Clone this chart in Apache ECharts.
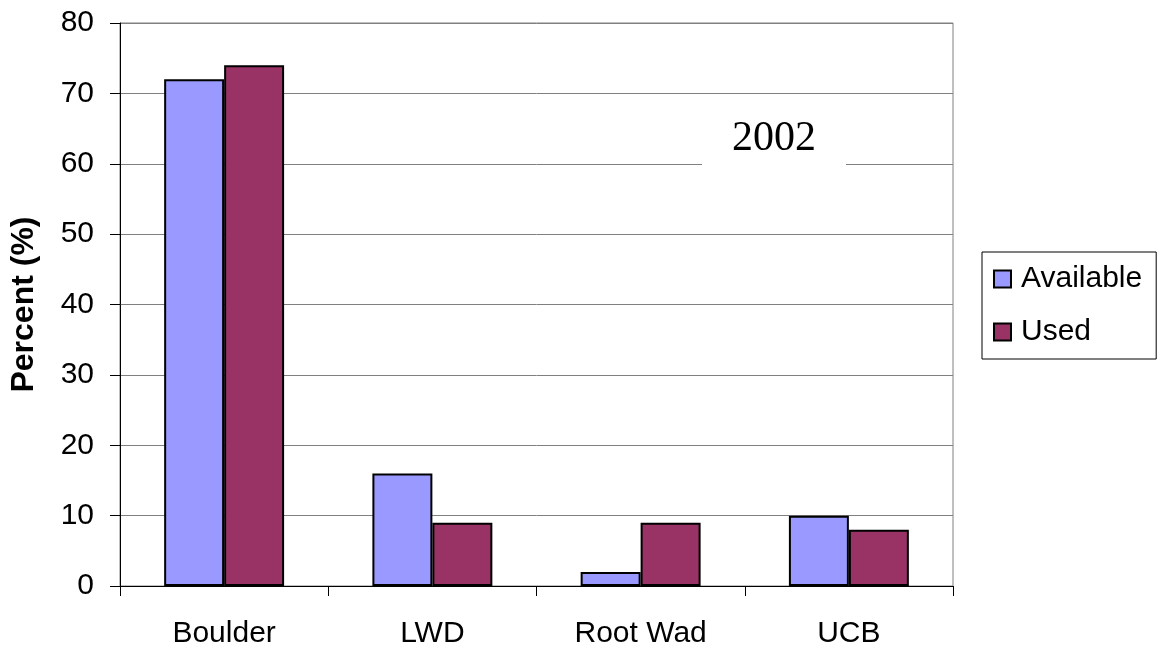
<!DOCTYPE html>
<html>
<head>
<meta charset="utf-8">
<script src="https://cdn.jsdelivr.net/npm/echarts@6/dist/echarts.min.js"></script>
<style>
  html, body { margin: 0; padding: 0; background: #fff; }
  #chartDiv { width: 1158px; height: 651px; }
</style>
</head>
<body>
<div id="chartDiv"></div>
<script>
// data
var categories = ['Boulder', 'LWD', 'Root Wad', 'UCB'];
var availableValues = [72, 16, 2, 10];
var usedValues = [74, 9, 9, 8];
var yTicks = { min: 0, max: 80, interval: 10 };

var myChart = echarts.init(document.getElementById('chartDiv'));

var font = '"Liberation Sans", Arial, sans-serif';

var option = {
    animation: false,
    textStyle: { fontFamily: font },
    grid: {
        left: 120,
        right: 205,
        top: 23,
        bottom: 65,
        outerBoundsMode: 'none',
        containLabel: false,
        show: true,
        borderColor: '#808080',
        borderWidth: 1
    },
    legend: {
        orient: 'vertical',
        left: 982,
        top: 252,
        data: ['Available', 'Used'],
        icon: 'rect',
        itemWidth: 17,
        itemHeight: 17,
        itemGap: 23,
        padding: [12, 14, 12, 11],
        borderColor: '#000',
        borderWidth: 1,
        textStyle: { fontSize: 30, color: '#000', fontFamily: font, padding: [0, 0, 0, 5] }
    },
    xAxis: [{
        type: 'category',
        data: categories,
        axisLine: { lineStyle: { color: '#000', width: 1 } },
        axisTick: { show: true, length: 10, lineStyle: { color: '#000' } },
        axisLabel: { fontSize: 30, color: '#000', margin: 33 }
    }],
    yAxis: [{
        type: 'value',
        min: yTicks.min,
        max: yTicks.max,
        interval: yTicks.interval,
        name: 'Percent (%)',
        nameLocation: 'middle',
        nameGap: 80,
        nameTextStyle: { fontSize: 32, fontWeight: 'bold', color: '#000' },
        axisLine: { show: true, lineStyle: { color: '#000', width: 1 } },
        axisTick: { show: true, length: 10, lineStyle: { color: '#000' } },
        axisLabel: { fontSize: 30, color: '#000', margin: 26 },
        splitLine: { lineStyle: { color: '#808080', width: 1 } }
    }],
    series: [{
        name: 'Available',
        type: 'bar',
        barWidth: '28.8%',
        barGap: '0%',
        itemStyle: { color: '#9999FF', borderColor: '#000', borderWidth: 2 },
        data: availableValues
    }, {
        name: 'Used',
        type: 'bar',
        barWidth: '28.8%',
        barGap: '0%',
        itemStyle: { color: '#993366', borderColor: '#000', borderWidth: 2 },
        data: usedValues
    }],
    graphic: [{
        type: 'rect',
        shape: { x: 702, y: 102, width: 144, height: 72 },
        style: { fill: '#fff' },
        z: 100
    }, {
        type: 'text',
        left: 732,
        top: 118,
        style: {
            text: '2002',
            font: '42px "Liberation Serif", "Times New Roman", serif',
            fill: '#000'
        },
        z: 101
    }]
};

myChart.setOption(option);
</script>
</body>
</html>
